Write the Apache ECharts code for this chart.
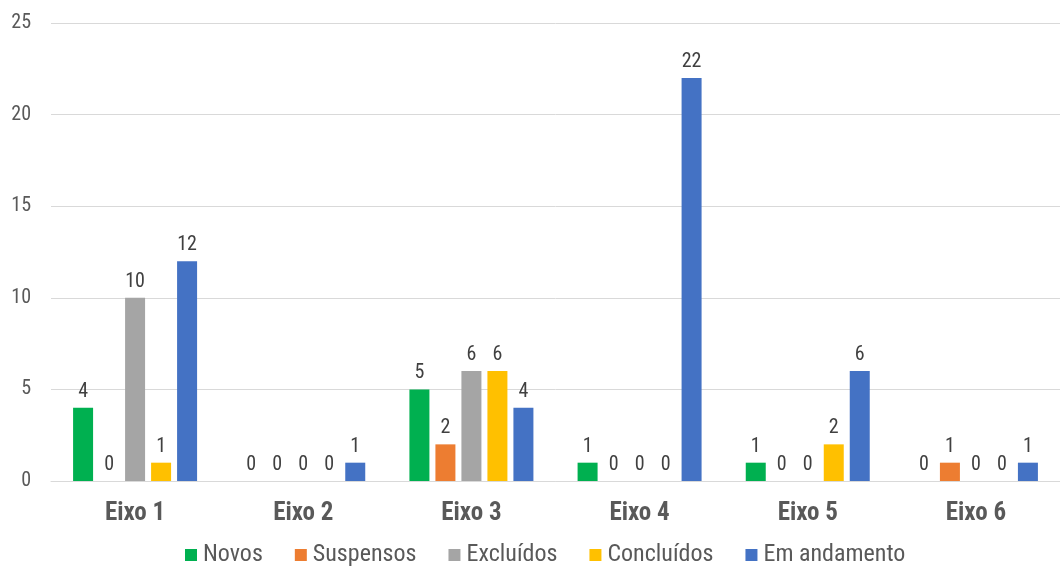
<!DOCTYPE html>
<html><head><meta charset="utf-8">
<script src="https://cdn.jsdelivr.net/npm/echarts@6/dist/echarts.min.js"></script>
<style>html,body{margin:0;padding:0;background:#fff}#c{width:1060px;height:567px}</style>
</head><body><div id="c"></div>
<script>
const categories = ['Eixo 1','Eixo 2','Eixo 3','Eixo 4','Eixo 5','Eixo 6'];
const novos = [4,0,5,1,1,0];
const suspensos = [0,0,2,0,0,1];
const excluidos = [10,0,6,0,0,0];
const concluidos = [1,0,6,0,2,0];
const emAndamento = [12,1,4,22,6,1];
const yTicks = [0,5,10,15,20,25];

const FONT = '"Liberation Sans Narrow","Roboto Condensed","DejaVu Sans Condensed",sans-serif';
const names = ['Novos','Suspensos','Excluídos','Concluídos','Em andamento'];
const colors = ['#00b050','#ed7d31','#a5a5a5','#ffc000','#4472c4'];
const data = [novos,suspensos,excluidos,concluidos,emAndamento];

const chart = echarts.init(document.getElementById('c'));
chart.setOption({
  animation:false,
  textStyle:{fontFamily:FONT},
  grid:{left:51,right:0,top:23,bottom:86},
  legend:{bottom:-5,left:180,itemWidth:12,itemHeight:12,itemGap:32,icon:'rect',
    textStyle:{fontFamily:FONT,fontSize:24,color:'#595959',padding:[0,0,0,1]},data:names},
  xAxis:{type:'category',data:categories,
    axisLine:{lineStyle:{color:'#d9d9d9'}},axisTick:{show:false},
    axisLabel:{fontFamily:FONT,fontSize:25,fontWeight:'bold',color:'#595959',margin:20}},
  yAxis:{type:'value',min:yTicks[0],max:yTicks[yTicks.length-1],interval:5,
    axisLine:{show:false},axisTick:{show:false},
    splitLine:{lineStyle:{color:'#d9d9d9'}},
    axisLabel:{fontFamily:FONT,fontSize:20,color:'#595959',margin:20}},
  series:data.map((d,i)=>({name:names[i],type:'bar',data:d,barWidth:20,barGap:'30%',barCategoryGap:'26%',
    itemStyle:{color:colors[i]},
    label:{show:true,position:'top',distance:6,fontFamily:FONT,fontSize:20,color:'#404040'}}))
});
</script></body></html>
